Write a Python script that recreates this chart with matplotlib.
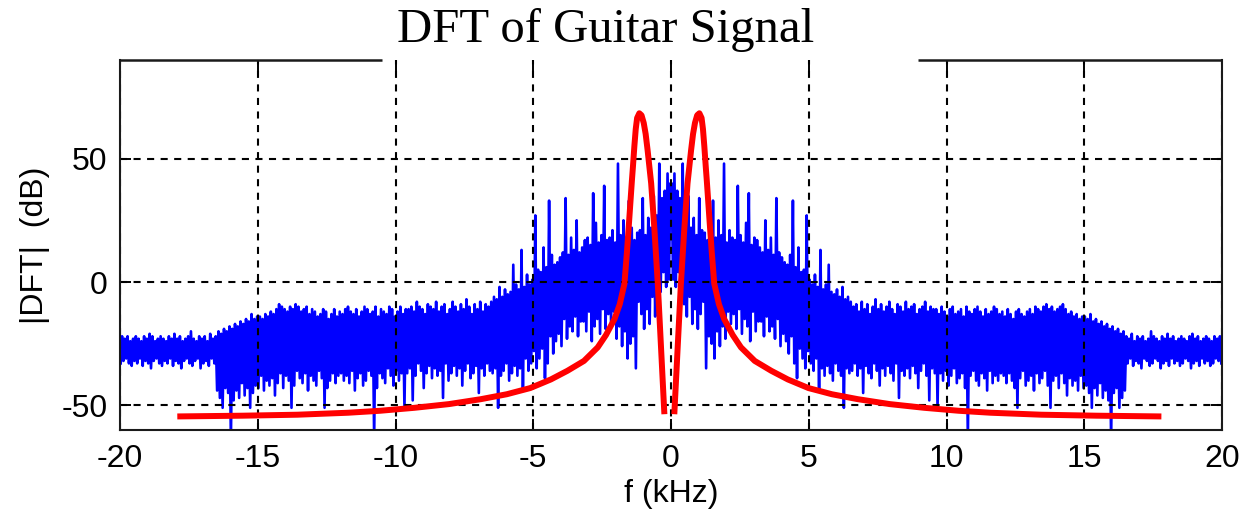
import numpy as np
import matplotlib
matplotlib.use("Agg")
import matplotlib.pyplot as plt

# ---------------- data ----------------
# Blue |DFT| (dB), positive-frequency half (spectrum of a real signal is symmetric).
# Pairs of local upper / lower readings every 0.1 kHz from 0 to 20 kHz.
blue_upper = [
    40, 44, 37, 34,
    48, 27, 35, 22, 26, 19, 34, 21,
    20, 17, 22, 33, 18, 25, 19, 48, 16, 21,
    18, 17, 39, 19, 16, 24, 36, 15, 18, 17,
    14, 12, 25, 13, 18, 11, 34, 12, 10,
    8, 7, 11, 33, 6, 14, 4, 5, 27,
    1, -1, 3, -2, 13, -3, -1, 7, -4, -5, -3, -6, -2, -7, -6,
    -8, -10, -9, -12, -8, -11, -9, -13, -10, -7, -11, -9, -12, -10, -8, -11,
    -13, -9, -10, -12, -8, -11, -10, -9, -13, -11, -10, -8, -12, -10, -11,
    -11, -13, -10, -12, -14, -11, -10, -13, -12, -11, -14, -10, -12, -13, -11,
    -10, -12, -14, -11, -13, -12, -10, -11, -13,
    -12, -14, -11, -13, -15, -12, -11, -13, -14, -12, -11, -13, -10, -11, -12,
    -10, -9, -11, -10, -12, -11, -10, -9, -11, -13, -12, -14, -13, -15, -14,
    -14, -15, -13, -16, -15, -17, -16, -18, -17, -19, -18, -20, -19, -21, -20,
    -22, -23, -21, -24, -22, -23, -22, -24, -23, -20, -22, -23, -24, -22, -23,
    -21, -23, -22, -24, -23, -22, -23, -24, -22, -21, -23, -22, -24, -23, -22,
    -23, -24, -22, -23, -22,
]
blue_lower = [
    1, -2, 4, -4,
    -9, -14, -6, -17, -11, -19, -13, -8,
    -35, -22, -25, -31, -20, -26, -18, -23, -12, -17,
    -13, -19, -11, -21, -15, -18, -24, -12, -20, -16,
    -16, -22, -14, -20, -18, -23, -15, -26, -21,
    -24, -29, -22, -33, -39, -27, -31, -35, -28,
    -33, -36, -31, -44, -35, -38, -34, -37, -40, -33, -36, -38, -51, -35, -37,
    -36, -33, -38, -35, -45, -34, -37, -39, -33, -36, -42, -35, -38, -34, -37,
    -40, -33, -47, -36, -38, -35, -39, -34, -37, -43, -36, -33, -38, -48, -35, -37,
    -51, -37, -40, -36, -42, -38, -35, -41, -39, -37, -43, -64, -38, -36, -40,
    -42, -37, -39, -44, -36, -41, -38, -40, -37,
    -38, -41, -37, -40, -43, -51, -39, -36, -42, -40, -38, -44, -37, -41, -39,
    -36, -42, -51, -40, -38, -43, -37, -41, -46, -39, -42, -40, -44, -38, -43,
    -42, -45, -51, -43, -46, -41, -47, -44, -48, -64, -45, -43, -51, -47, -44,
    -33, -31, -34, -32, -33, -35, -31, -32, -34, -33, -31, -32, -35, -33, -32,
    -34, -31, -33, -32, -34, -33, -31, -32, -35, -33, -32, -34, -31, -33, -32,
    -34, -33, -31, -32, -33,
]
blue_step_khz = 0.05

# Red model curve: offsets (kHz) from its centre and level (dB), one branch.
red_center_khz = -0.06
red_offset = [0.18, 0.30, 0.42, 0.54, 0.66, 0.79, 0.86, 0.93, 1.01, 1.09, 1.17,
              1.22, 1.27, 1.32, 1.36, 1.45, 1.54, 1.63, 1.80, 1.99, 2.30, 2.60,
              3.10, 3.70, 4.30, 5.05, 5.90, 6.84, 8.00, 9.25, 10.50, 11.66,
              13.50, 15.50, 17.86]
red_db = [-53.6, -27.0, -0.6, 21.0, 40.0, 53.5, 60.0, 64.5, 67.6, 68.4, 66.5,
          62.0, 55.0, 47.0, 41.0, 26.3, 12.0, -0.7, -9.0, -15.0, -21.5, -26.5,
          -32.0, -36.0, -39.5, -43.0, -45.5, -47.5, -49.5, -51.0, -52.2, -53.0,
          -53.8, -54.2, -54.5]

title_text = "DFT of Guitar Signal"
xlabel_text = "f (kHz)"
ylabel_text = "|DFT|  (dB)"
xticks = [-20, -15, -10, -5, 0, 5, 10, 15, 20]
yticks = [-50, 0, 50]

# ---------------- assemble ----------------
n = len(blue_upper)
y_pos = np.empty(2 * n)
y_pos[0::2] = blue_upper
y_pos[1::2] = blue_lower
f_pos = (np.arange(2 * n) + 0.5) * blue_step_khz
f_blue = np.concatenate([-f_pos[::-1], f_pos])
y_blue = np.concatenate([y_pos[::-1], y_pos])

ro = np.array(red_offset)
rd = np.array(red_db)
f_red = np.concatenate([red_center_khz - ro[::-1], [np.nan], red_center_khz + ro])
y_red = np.concatenate([rd[::-1], [np.nan], rd])

# ---------------- figure ----------------
W, H = 1245, 523
fig = plt.figure(figsize=(W / 100, H / 100), dpi=100)
ax = fig.add_axes([120 / W, 1 - 430 / H, 1102 / W, 370 / H])

ax.plot(f_blue, y_blue, color="#0000FF", lw=1.9, zorder=1)
ax.plot(f_red, y_red, color="#FF0000", lw=4.3, zorder=2, solid_capstyle="butt")

ax.set_xlim(-20, 20)
ax.set_ylim(-60, 90)
ax.set_xticks(xticks)
ax.set_yticks(yticks)
ax.set_axisbelow("line")
ax.grid(True, color="black", linestyle=(0, (3.4, 3.1)), linewidth=1.5)

tick_font = dict(family="Liberation Sans", size=23)
ax.set_xticklabels([str(t) for t in xticks], **tick_font)
ax.set_yticklabels([str(t) for t in yticks], **tick_font)
ax.tick_params(direction="in", length=8, width=1.4, top=True, right=True,
               colors="black")
ax.tick_params(axis="x", pad=10)
ax.tick_params(axis="y", pad=9)

for s in ["left", "right", "bottom"]:
    ax.spines[s].set_linewidth(1.5)
    ax.spines[s].set_color("#1a1a1a")
ax.spines["top"].set_visible(False)
# top frame line, interrupted behind the title box
gap0, gap1 = (382 - 120) / 1102, (918 - 120) / 1102
for a, b in [(0, gap0), (gap1, 1)]:
    ax.plot([a, b], [1, 1], transform=ax.transAxes, color="#1a1a1a", lw=1.8,
            clip_on=False, zorder=5, solid_capstyle="butt")

ax.set_xlabel(xlabel_text, family="Liberation Sans", size=23, labelpad=4)
ax.set_ylabel(ylabel_text, family="Liberation Sans", size=23, labelpad=8)

fig.text(606 / W, 1 - 42 / H, title_text, family="Liberation Serif", size=35,
         ha="center", va="baseline")

fig.savefig("out.png", dpi=100)
